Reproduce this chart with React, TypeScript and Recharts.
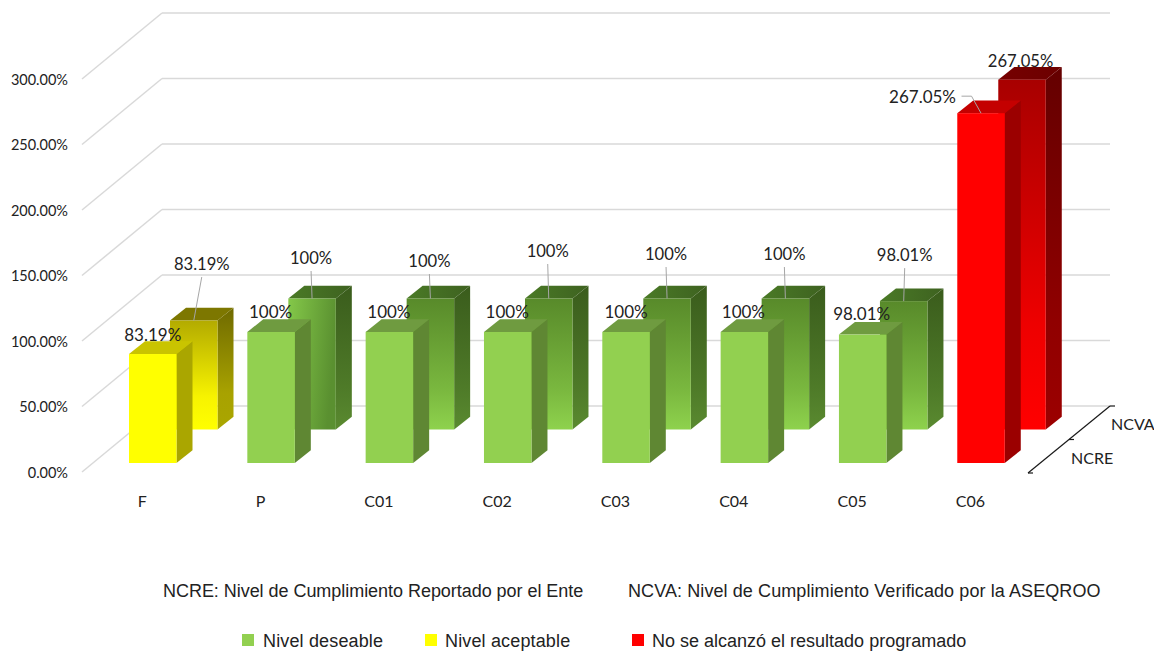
import React from 'react';
import { ComposedChart, Bar, XAxis, YAxis, CartesianGrid, LabelList, Legend, Customized } from 'recharts';

const categories = ['F', 'P', 'C01', 'C02', 'C03', 'C04', 'C05', 'C06'];
const ncre = [83.19, 100, 100, 100, 100, 100, 98.01, 267.05];
const ncva = [83.19, 100, 100, 100, 100, 100, 98.01, 267.05];
const levels = ['yellow', 'green', 'green', 'green', 'green', 'green', 'green', 'red'];
const yTicks = [0, 50, 100, 150, 200, 250, 300];
const depthNames = ['NCRE', 'NCVA'];
const noteTexts = [
  'NCRE: Nivel de Cumplimiento Reportado por el Ente',
  'NCVA: Nivel de Cumplimiento Verificado por la ASEQROO',
];
const legendNames = ['Nivel deseable', 'Nivel aceptable', 'No se alcanzó el resultado programado'];

const data = categories.map((c, i) => ({ c, ncre: ncre[i], ncva: ncva[i], level: levels[i] }));

const W = 1154;
const H = 651;
const FONT = 'Lato, sans-serif';
const ARIAL = '"Liberation Sans", Arial, sans-serif';
const TEXT = '#222222';
const DX = 16;
const DY = -12.7;
const BACK_X = 41;
const BACK_Y = -33.5;

const frontFaces: any = {
  yellow: { face: '#ffff00', side: '#aaa600', top: '#c9c400' },
  green: { face: '#92d050', side: '#5f8733', top: '#6f9b40' },
  red: { face: '#ff0000', side: '#9b0000', top: '#c40000' },
};
const backStops: any = {
  yellow: { faceA: '#b3ab00', faceM: '#f7f300', faceB: '#ffff00', sideA: '#6f6a00', sideM: '#a8a200', sideB: '#aaa600', topA: '#7d7700', topB: '#7d7700' },
  green: { faceA: '#588a2a', faceM: '#7ab83f', faceB: '#8ed24d', sideA: '#3a5c1c', sideM: '#4e7a28', sideB: '#5a8a30', topA: '#4a7a26', topB: '#3e6220' },
  red: { faceA: '#a80000', faceM: '#ee0000', faceB: '#ff0000', sideA: '#640000', sideM: '#900000', sideB: '#9c0000', topA: '#760000', topB: '#6c0000' },
};

const FrontBar = (p: any) => {
  const { x, y, width, height, payload } = p;
  const c = frontFaces[payload.level];
  const r = x + width;
  const b = y + height;
  return (
    <g>
      <polygon points={`${r},${y} ${r + DX},${y + DY} ${r + DX},${b + DY} ${r},${b}`} fill={c.side} />
      <polygon points={`${x},${y} ${x + DX},${y + DY} ${r + DX},${y + DY} ${r},${y}`} fill={c.top} />
      <rect x={x} y={y} width={width} height={height} fill={c.face} />
    </g>
  );
};

const BackBar = (p: any) => {
  const { width, height, payload, index } = p;
  const x = p.x + BACK_X;
  const y = p.y + BACK_Y;
  const l = payload.level;
  const r = x + width;
  const b = y + height;
  const faceFill = index === 1 ? 'url(#face-green-h)' : `url(#face-${l})`;
  return (
    <g>
      <polygon points={`${r},${y} ${r + DX},${y + DY} ${r + DX},${b + DY} ${r},${b}`} fill={`url(#side-${l})`} />
      <polygon points={`${x},${y} ${x + DX},${y + DY} ${r + DX},${y + DY} ${r},${y}`} fill={`url(#top-${l})`} />
      <rect x={x} y={y} width={width} height={height} fill={faceFill} />
    </g>
  );
};

const fmt = (v: number) => (Number.isInteger(v) ? `${v}%` : `${v.toFixed(2)}%`);

const frontLabelOffsets = [[0, -20], [-0.5, -21], [-0.5, -21], [-0.5, -21], [0, -21], [-1, -21], [-1, -21.5], [-58.5, -17]];
const backLabelOffsets = [[8, -56.5], [-1, -40.5], [-1, -37.5], [-1, -47.5], [-1, -44.5], [-1, -44.5], [1, -46], [-1.5, -18.5]];

const FrontLabel = (p: any) => {
  const { x, y, width, value, index } = p;
  const cx = x + width / 2;
  const [ox, oy] = frontLabelOffsets[index];
  return (
    <g>
      {index === 7 && (
        <polyline points={`${cx + ox + 39},${y + oy} ${cx + ox + 49},${y + oy} ${cx},${y}`} fill="none" stroke="#a6a6a6" strokeWidth={1} />
      )}
      <text x={cx + ox} y={y + oy} textAnchor="middle" dominantBaseline="central" fontFamily={FONT} fontSize={17} fill={TEXT}>
        {fmt(value)}
      </text>
    </g>
  );
};

const BackLabel = (p: any) => {
  const { x, y, width, value, index } = p;
  const cx = x + width / 2 + BACK_X;
  const top = y + BACK_Y;
  const [ox, oy] = backLabelOffsets[index];
  return (
    <g>
      {index !== 7 && <line x1={cx + ox} y1={top + oy + 13} x2={cx} y2={top} stroke="#a6a6a6" strokeWidth={1} />}
      <text x={cx + ox} y={top + oy} textAnchor="middle" dominantBaseline="central" fontFamily={FONT} fontSize={16.6} fill={TEXT}>
        {fmt(value)}
      </text>
    </g>
  );
};

const GridLine = (p: any) => {
  const y = p.y1;
  const frontY = y + 9;
  const wallY = y - 57;
  return (
    <g>
      <line x1={82} y1={frontY} x2={162} y2={wallY} stroke="#d9d9d9" strokeWidth={1.5} />
      <line x1={162} y1={wallY} x2={1110} y2={wallY} stroke="#d9d9d9" strokeWidth={1.5} />
    </g>
  );
};

const YTick = (p: any) => {
  const { y, payload } = p;
  return (
    <text x={68} y={y + 9} textAnchor="end" dominantBaseline="central" fontFamily={FONT} fontSize={14.5} fill={TEXT}>
      {`${payload.value.toFixed(2)}%`}
    </text>
  );
};

const XTick = (p: any) => {
  const { x, y, payload } = p;
  return (
    <text x={x - 11} y={y + 29} textAnchor="middle" dominantBaseline="central" fontFamily={FONT} fontSize={16} fill={TEXT}>
      {payload.value}
    </text>
  );
};

const DepthAxis = () => (
  <g>
    <line x1={1028} y1={473} x2={1110} y2={406} stroke="#1a1a1a" strokeWidth={1.2} />
    <line x1={1028} y1={473} x2={1033} y2={473} stroke="#1a1a1a" strokeWidth={1.2} />
    <line x1={1069} y1={439.5} x2={1074} y2={439.5} stroke="#1a1a1a" strokeWidth={1.2} />
    <line x1={1110} y1={406} x2={1115} y2={406} stroke="#1a1a1a" strokeWidth={1.2} />
    <text x={1071} y={457} dominantBaseline="central" fontFamily={FONT} fontSize={16} fill={TEXT}>{depthNames[0]}</text>
    <text x={1111} y={423} dominantBaseline="central" fontFamily={FONT} fontSize={16} fill={TEXT}>{depthNames[1]}</text>
  </g>
);

const legendSwatch = ['#92d050', '#ffff00', '#ff0000'];
const legendSwatchX = [242, 425, 632];
const legendTextX = [263, 445, 652];
const legendSpacing = [0.15, 0.15, 0];
const noteX = [163, 628];
const noteSpacing = [-0.04, 0.09];

const LegendBlock = () => (
  <div style={{ position: 'relative', width: W, height: 81, fontFamily: ARIAL, color: TEXT, fontSize: 18 }}>
    {noteTexts.map((t, i) => (
      <span key={t} style={{ position: 'absolute', left: noteX[i], top: 9, whiteSpace: 'nowrap', lineHeight: '24px', letterSpacing: noteSpacing[i] }}>{t}</span>
    ))}
    {legendNames.map((t, i) => (
      <React.Fragment key={t}>
        <span style={{ position: 'absolute', left: legendSwatchX[i], top: 64, width: 12, height: 12, background: legendSwatch[i] }} />
        <span style={{ position: 'absolute', left: legendTextX[i], top: 59, whiteSpace: 'nowrap', lineHeight: '24px', letterSpacing: legendSpacing[i] }}>{t}</span>
      </React.Fragment>
    ))}
  </div>
);

export default function App() {
  return (
    <div style={{ position: 'absolute', left: 0, top: 0, width: 1159, height: H, background: '#fff' }}>
      <ComposedChart
        width={W}
        height={H}
        data={data}
        barSize={47.5}
        barGap={-47.5}
        margin={{ top: 70, right: 113.4, bottom: 0, left: 0 }}
      >
        <defs>
          {Object.keys(backStops).map((k) => (
            <React.Fragment key={k}>
              <linearGradient id={`face-${k}`} x1="0" y1="0" x2="0" y2="1">
                <stop offset="0" stopColor={backStops[k].faceA} />
                <stop offset="0.7" stopColor={backStops[k].faceM} />
                <stop offset="1" stopColor={backStops[k].faceB} />
              </linearGradient>
              <linearGradient id={`side-${k}`} x1="0" y1="0" x2="0" y2="1">
                <stop offset="0" stopColor={backStops[k].sideA} />
                <stop offset="0.7" stopColor={backStops[k].sideM} />
                <stop offset="1" stopColor={backStops[k].sideB} />
              </linearGradient>
              <linearGradient id={`top-${k}`} x1="0" y1="0" x2="1" y2="0">
                <stop offset="0" stopColor={backStops[k].topA} />
                <stop offset="1" stopColor={backStops[k].topB} />
              </linearGradient>
            </React.Fragment>
          ))}
          <linearGradient id="face-green-h" x1="0" y1="0" x2="1" y2="0.25">
            <stop offset="0" stopColor="#84c849" />
            <stop offset="1" stopColor="#5a9030" />
          </linearGradient>
        </defs>
        <CartesianGrid vertical={false} horizontal={<GridLine />} />
        <YAxis domain={[0, 300]} ticks={yTicks} width={94} axisLine={false} tickLine={false} tick={<YTick />} interval={0} />
        <XAxis dataKey="c" height={107} axisLine={false} tickLine={false} tick={<XTick />} interval={0} />
        <Bar dataKey="ncva" isAnimationActive={false} shape={<BackBar />}>
          <LabelList dataKey="ncva" content={<BackLabel />} />
        </Bar>
        <Bar dataKey="ncre" isAnimationActive={false} shape={<FrontBar />}>
          <LabelList dataKey="ncre" content={<FrontLabel />} />
        </Bar>
        <Customized component={DepthAxis} />
        <Legend verticalAlign="bottom" height={81} content={<LegendBlock />} wrapperStyle={{ left: 0, width: W }} />
      </ComposedChart>
    </div>
  );
}
